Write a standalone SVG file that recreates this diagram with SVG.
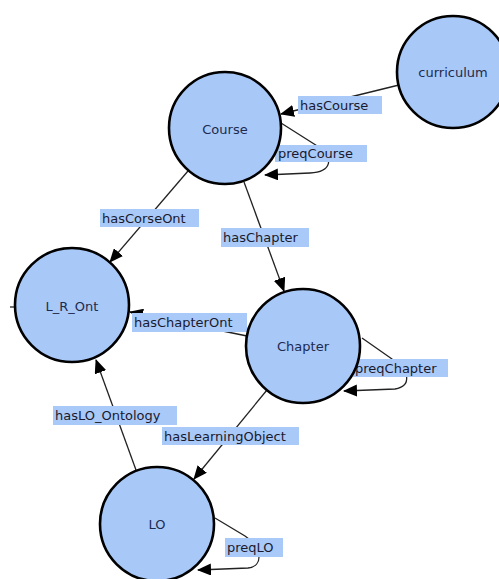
<svg xmlns="http://www.w3.org/2000/svg" width="499" height="579" viewBox="0 0 499 579">
<style>
.edge{fill:none;stroke:#222;stroke-width:1.3}
.lbl rect{fill:#a9c9f8}
.lbl text{font-family:"DejaVu Sans",sans-serif;font-size:13px;fill:#1a1a2e}
.node circle{fill:#a8c8f8;stroke:#000;stroke-width:2.6}
.node text{font-family:"DejaVu Sans",sans-serif;font-size:13px;fill:#1c2b4e;text-anchor:middle}
</style>
<defs>
<marker id="arr" markerUnits="userSpaceOnUse" markerWidth="14" markerHeight="12" refX="13" refY="6" orient="auto">
<path d="M0,0 L14,6 L0,12 z" fill="#000"/>
</marker>
</defs>
<rect width="499" height="579" fill="#fff"/>
<g id="connectors">
<path class="edge" d="M399,85 L281,114" marker-end="url(#arr)"/>
<path class="edge" d="M281,123 L322,149 C332,157 333,172 310,173 L265,175" marker-end="url(#arr)"/>
<path class="edge" d="M188,171 L110,262" marker-end="url(#arr)"/>
<path class="edge" d="M244,182 L284,291" marker-end="url(#arr)"/>
<path class="edge" d="M247,336 L130,312" marker-end="url(#arr)"/>
<path class="edge" d="M362,338 L392,359 C410,370 412,386 395,389 L344,391" marker-end="url(#arr)"/>
<path class="edge" d="M267,390 L194,479" marker-end="url(#arr)"/>
<path class="edge" d="M136,470 L96,360" marker-end="url(#arr)"/>
<path class="edge" d="M215,518 L245,536 C262,548 264,566 248,568 L198,570" marker-end="url(#arr)"/>
<path class="edge" d="M10,307 L16,307"/>
</g>
<g id="labels">
<g class="lbl"><rect x="298" y="96" width="84" height="18"/><text x="300" y="110">hasCourse</text></g>
<g class="lbl"><rect x="275" y="145" width="92" height="17"/><text x="278" y="158">preqCourse</text></g>
<g class="lbl"><rect x="100" y="209" width="99" height="18"/><text x="102" y="223">hasCorseOnt</text></g>
<g class="lbl"><rect x="221" y="228" width="88" height="19"/><text x="223" y="242">hasChapter</text></g>
<g class="lbl"><rect x="132" y="313" width="115" height="19"/><text x="134" y="327">hasChapterOnt</text></g>
<g class="lbl"><rect x="353" y="359" width="95" height="18"/><text x="355" y="373">preqChapter</text></g>
<g class="lbl"><rect x="53" y="406" width="124" height="19"/><text x="55" y="420">hasLO_Ontology</text></g>
<g class="lbl"><rect x="162" y="427" width="137" height="18"/><text x="164" y="441">hasLearningObject</text></g>
<g class="lbl"><rect x="225" y="538" width="58" height="19"/><text x="227" y="552">preqLO</text></g>
</g>
<g id="curriculum" class="node"><circle cx="453" cy="72" r="56"/><text x="453" y="77">curriculum</text></g>
<g id="Course" class="node"><circle cx="225" cy="128" r="56"/><text x="225" y="134">Course</text></g>
<g id="L_R_Ont" class="node"><circle cx="72" cy="305" r="57"/><text x="72" y="311">L_R_Ont</text></g>
<g id="Chapter" class="node"><circle cx="303" cy="346" r="57"/><text x="303" y="351">Chapter</text></g>
<g id="LO" class="node"><circle cx="157" cy="524" r="57"/><text x="157" y="529">LO</text></g>
</svg>
